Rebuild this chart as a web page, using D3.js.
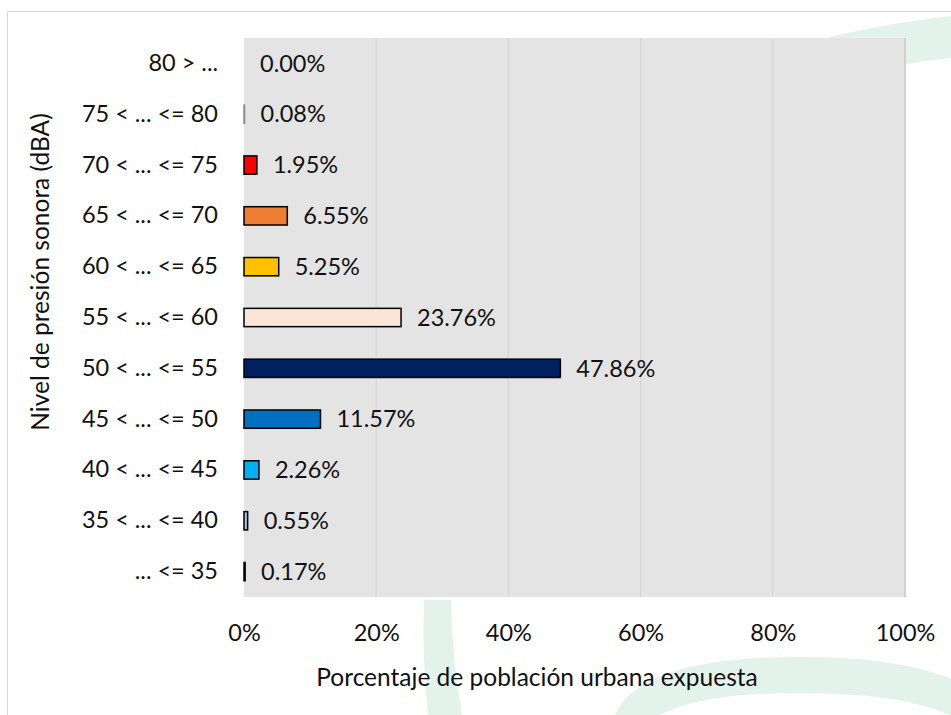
<!DOCTYPE html>
<html>
<head>
<meta charset="utf-8">
<script src="https://cdn.jsdelivr.net/npm/d3@7"></script>
<style>
  body { margin: 0; background: #fff; }
  text { font-family: Lato, 'Open Sans', sans-serif; fill: #111; }
</style>
</head>
<body>
<div class="canvas"></div>
<script>
// data
const categories = ['80 > ...', '75 < ... <= 80', '70 < ... <= 75', '65 < ... <= 70', '60 < ... <= 65',
	'55 < ... <= 60', '50 < ... <= 55', '45 < ... <= 50', '40 < ... <= 45', '35 < ... <= 40', '... <= 35'];
const values = [0.00, 0.08, 1.95, 6.55, 5.25, 23.76, 47.86, 11.57, 2.26, 0.55, 0.17];
const barColors = ['#7f7f7f', '#bfbfbf', '#ff0000', '#ed7d31', '#ffc000', '#fbe5d6', '#002060', '#0070c0', '#00b0f0', '#9dc3e6', '#deebf7'];
const xTicks = [0, 20, 40, 60, 80, 100];
const xTitle = 'Porcentaje de población urbana expuesta';
const yTitle = 'Nivel de presión sonora (dBA)';

const labelSize = 23.5;
const titleSize = 24.5;

const svg = d3.select('.canvas')
	.append('svg')
	.attr('width', 951)
	.attr('height', 715);

// watermark shapes
const green = '#e3f3ec';
svg.append('path')
	.attr('d', 'M800,44 Q880,24 951,16 L951,58 Q905,63 860,72 Z')
	.attr('fill', green);
svg.append('path')
	.attr('d', 'M424,600 L451,600 Q452,660 462,715 L428,715 Q422,660 424,600 Z')
	.attr('fill', green);
svg.append('path')
	.attr('fill-rule', 'evenodd')
	.attr('d', 'M615,715 Q640,657 800,657 Q960,657 1000,715 Z M660,715 Q700,693 800,693 Q900,693 950,715 Z')
	.attr('fill', green);

// outer border
svg.append('rect')
	.attr('x', 7.5).attr('y', 11.5)
	.attr('width', 960).attr('height', 720)
	.attr('fill', 'none')
	.attr('stroke', '#d9d9d9');

const margin = { top: 38, left: 244 };
const graphWidth = 661;
const graphHeight = 559;

const graph = svg.append('g')
	.attr('transform', `translate(${margin.left},${margin.top})`);

// scales
const x = d3.scaleLinear()
	.domain([0, 100])
	.range([0, graphWidth]);

const y = d3.scaleBand()
	.domain(categories)
	.range([0, graphHeight])
	.paddingInner(0.64)
	.paddingOuter(0.32);

// plot background and grid
graph.append('rect')
	.attr('width', graphWidth)
	.attr('height', graphHeight)
	.attr('fill', '#e4e4e4');

graph.selectAll('line.grid')
	.data(xTicks.slice(1))
	.enter()
	.append('line')
	.attr('class', 'grid')
	.attr('x1', d => x(d)).attr('x2', d => x(d))
	.attr('y1', 0).attr('y2', graphHeight)
	.attr('stroke', d => d === 100 ? '#d0d0d0' : '#d6d6d6')
	.attr('stroke-width', d => d === 100 ? 2 : 1.2);

// bars
graph.selectAll('rect.bar')
	.data(values)
	.enter()
	.append('rect')
	.attr('class', 'bar')
	.attr('x', 0)
	.attr('y', (d, i) => y(categories[i]))
	.attr('width', d => x(d))
	.attr('height', y.bandwidth())
	.attr('fill', (d, i) => barColors[i])
	.attr('stroke', (d, i) => i === 1 ? '#8c8c8c' : '#000')
	.attr('stroke-width', d => d > 0 ? 1.5 : 0);

// value labels
graph.selectAll('text.val')
	.data(values)
	.enter()
	.append('text')
	.attr('class', 'val')
	.attr('x', d => x(d) + 16)
	.attr('y', (d, i) => y(categories[i]) + y.bandwidth() / 2)
	.attr('dy', '0.35em')
	.attr('font-size', labelSize)
	.text(d => d.toFixed(2) + '%');

// axes
const xAxis = d3.axisBottom(x)
	.tickValues(xTicks)
	.tickSize(0)
	.tickPadding(27)
	.tickFormat(d => d + '%');
const yAxis = d3.axisLeft(y)
	.tickSize(0)
	.tickPadding(26);

const xAxisGroup = graph.append('g')
	.attr('transform', `translate(0,${graphHeight})`)
	.call(xAxis);
const yAxisGroup = graph.append('g').call(yAxis);

[xAxisGroup, yAxisGroup].forEach(g => {
	g.select('.domain').remove();
	g.selectAll('text')
		.attr('font-size', labelSize)
		.attr('font-family', 'Lato, sans-serif')
		.attr('fill', '#111');
});

// titles
svg.append('text')
	.attr('x', 537)
	.attr('y', 677)
	.attr('dy', '0.35em')
	.attr('text-anchor', 'middle')
	.attr('font-size', titleSize)
	.text(xTitle);

svg.append('text')
	.attr('transform', 'translate(40,272) rotate(-90)')
	.attr('dy', '0.35em')
	.attr('text-anchor', 'middle')
	.attr('font-size', titleSize)
	.text(yTitle);
</script>
</body>
</html>
